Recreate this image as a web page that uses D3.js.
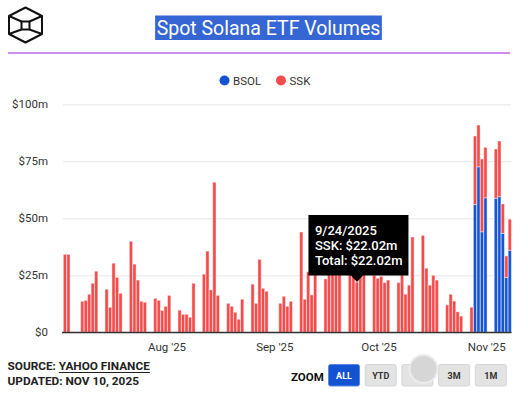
<!DOCTYPE html>
<html>
<head>
<meta charset="utf-8">
<script src="https://cdn.jsdelivr.net/npm/d3@7"></script>
<style>
  body { margin: 0; background: #fff; }
  svg { display: block; font-family: Roboto, "Noto Sans", sans-serif; }
</style>
</head>
<body>
<svg id="chart" width="528" height="397"></svg>
<script>
// trading days (weekends / holidays have no bar)
const dates = [
  '2025-07-02','2025-07-03',
  '2025-07-07','2025-07-08','2025-07-09','2025-07-10','2025-07-11',
  '2025-07-14','2025-07-15','2025-07-16','2025-07-17','2025-07-18',
  '2025-07-21','2025-07-22','2025-07-23','2025-07-24','2025-07-25',
  '2025-07-28','2025-07-29','2025-07-30','2025-07-31','2025-08-01',
  '2025-08-04','2025-08-05','2025-08-06','2025-08-07','2025-08-08',
  '2025-08-11','2025-08-12','2025-08-13','2025-08-14','2025-08-15',
  '2025-08-18','2025-08-19','2025-08-20','2025-08-21','2025-08-22',
  '2025-08-25','2025-08-26','2025-08-27','2025-08-28','2025-08-29',
  '2025-09-02','2025-09-03','2025-09-04','2025-09-05',
  '2025-09-08','2025-09-09','2025-09-10','2025-09-11','2025-09-12',
  '2025-09-15','2025-09-16','2025-09-17','2025-09-18','2025-09-19',
  '2025-09-22','2025-09-23','2025-09-24','2025-09-25','2025-09-26',
  '2025-09-29','2025-09-30','2025-10-01','2025-10-02','2025-10-03',
  '2025-10-06','2025-10-07','2025-10-08','2025-10-09','2025-10-10',
  '2025-10-13','2025-10-14','2025-10-15','2025-10-16','2025-10-17',
  '2025-10-20','2025-10-21','2025-10-22','2025-10-23','2025-10-24',
  '2025-10-27','2025-10-28','2025-10-29','2025-10-30','2025-10-31',
  '2025-11-03','2025-11-04','2025-11-05','2025-11-06','2025-11-07'
];
// $m
const ssk = [
  34.2, 34.2,
  13.6, 14.0, 16.7, 21.5, 26.8,
  18.9, 11.0, 30.3, 24.1, 17.1,
  39.9, 29.9, 22.9, 13.6, 13.2,
  14.9, 14.0, 9.6, 11.4, 16.2,
  9.7, 7.9, 7.9, 6.6, 21.5,
  25.5, 35.6, 18.6, 65.8, 16.2,
  12.7, 11.4, 8.8, 5.7, 14.5,
  21.1, 12.7, 32.0, 19.3, 18.0,
  12.7, 15.8, 11.4, 13.6,
  44.0, 14.5, 26.6, 16.4, 31.0,
  23.4, 29.0, 33.0, 27.0, 35.0,
  30.0, 25.0, 22.02, 27.0, 28.0,
  25.0, 23.7, 24.5, 21.8, 22.9,
  21.8, 26.5, 16.7, 20.7, 41.8,
  42.5, 28.1, 20.7, 25.0, 22.9,
  12.0, 16.7, 13.7, 9.0, 7.1,
  11.0, 30.0, 18.3, 31.9, 22.1,
  21.6, 24.4, 12.9, 9.4, 13.6
];
const bsol = [
  0, 0,
  0, 0, 0, 0, 0,
  0, 0, 0, 0, 0,
  0, 0, 0, 0, 0,
  0, 0, 0, 0, 0,
  0, 0, 0, 0, 0,
  0, 0, 0, 0, 0,
  0, 0, 0, 0, 0,
  0, 0, 0, 0, 0,
  0, 0, 0, 0,
  0, 0, 0, 0, 0,
  0, 0, 0, 0, 0,
  0, 0, 0, 0, 0,
  0, 0, 0, 0, 0,
  0, 0, 0, 0, 0,
  0, 0, 0, 0, 0,
  0, 0, 0, 0, 0,
  0, 56.1, 72.6, 44.1, 59.0,
  58.8, 59.5, 43.4, 24.1, 36.0
];
const seriesNames = ['BSOL', 'SSK'];
const seriesColors = ['#1453d2', '#f44b4b'];
const yTicks = [0, 25, 50, 75, 100];
const yTickLabels = ['$0', '$25m', '$50m', '$75m', '$100m'];
const monthTicks = ['2025-08-01', '2025-09-01', '2025-10-01', '2025-11-01'];
const monthLabels = ["Aug '25", "Sep '25", "Oct '25", "Nov '25"];
const zoomButtons = ['ALL', 'YTD', '', '3M', '1M'];
const tipDate = '2025-09-24';
const tipLabel = '9/24/2025';

const svg = d3.select('#chart');
const parse = d3.utcParse('%Y-%m-%d');

const rows = dates.map((d, i) => ({ date: parse(d), BSOL: bsol[i], SSK: ssk[i] }));

// scales
const x = d3.scaleUtc()
  .domain([parse('2025-07-02'), parse('2025-11-08')])
  .range([63.3, 511.6]);
const y = d3.scaleLinear().domain([0, 100]).range([332.3, 104.3]);
const pitch = x(parse('2025-07-03')) - x(parse('2025-07-02'));

// ---- header
const logo = svg.append('g')
  .attr('fill', 'none').attr('stroke', '#111').attr('stroke-width', 2)
  .attr('stroke-linejoin', 'round');
logo.append('path').attr('d', 'M25.5,7.5 L42,16 L42,34 L25.5,42.5 L9,34 L9,16 Z');
logo.append('rect').attr('x', 21.5).attr('y', 21.5).attr('width', 8).attr('height', 8);
logo.append('path').attr('d', 'M9,16 L21.5,21.5 M42,16 L29.5,21.5 M9,34 L21.5,29.5 M42,34 L29.5,29.5');

const title = svg.append('g');
const titleText = title.append('text')
  .attr('x', 268.5).attr('y', 35)
  .attr('text-anchor', 'middle')
  .attr('font-size', 19.5).attr('fill', '#fff')
  .text('Spot Solana ETF Volumes');
const tw = titleText.node().getComputedTextLength();
title.insert('rect', 'text')
  .attr('x', 268.5 - tw / 2 - 1.5).attr('y', 15.5)
  .attr('width', tw + 3).attr('height', 24.5)
  .attr('fill', '#3566d3');

svg.append('line')
  .attr('x1', 8).attr('x2', 510).attr('y1', 53).attr('y2', 53)
  .attr('stroke', '#9b1fdc').attr('stroke-width', 1.2);

// ---- legend
const legend = svg.append('g').attr('font-size', 11.5).attr('fill', '#333');
const legendX = [224.5, 281];
seriesNames.forEach((name, i) => {
  legend.append('circle').attr('cx', legendX[i]).attr('cy', 80.5).attr('r', 5)
    .attr('fill', seriesColors[i]);
  legend.append('text').attr('x', legendX[i] + 8.5).attr('y', 84.5).text(name);
});

// ---- grid + y axis
const yAxis = d3.axisLeft(y).tickValues(yTicks)
  .tickSize(-(511 - 63))
  .tickFormat((d, i) => yTickLabels[i]);
svg.append('g')
  .attr('transform', 'translate(63,0)')
  .call(yAxis)
  .call(g => g.select('.domain').remove())
  .call(g => g.selectAll('.tick line').attr('stroke', '#e6e6e6'))
  .call(g => g.selectAll('.tick text')
    .attr('x', -15).attr('font-size', 11.5).attr('fill', '#333')
    .attr('font-family', 'Roboto, sans-serif'));

// ---- bars
const stack = d3.stack().keys(seriesNames)(rows);
svg.append('g').selectAll('g')
  .data(stack)
  .join('g')
  .attr('fill', (d, i) => seriesColors[i])
  .selectAll('rect')
  .data(d => d.filter(p => p[1] > p[0]))
  .join('rect')
  .attr('x', d => x(d.data.date))
  .attr('y', d => y(d[1]))
  .attr('width', pitch - 0.2)
  .attr('height', d => y(d[0]) - y(d[1]))
  .attr('stroke', 'rgba(255,255,255,0.45)')
  .attr('stroke-width', 1);

// ---- x axis
const xAxis = d3.axisBottom(x)
  .tickValues(monthTicks.map(parse))
  .tickSize(0)
  .tickFormat((d, i) => monthLabels[i]);
svg.append('g')
  .attr('transform', 'translate(-1,332)')
  .call(xAxis)
  .call(g => g.select('.domain').remove())
  .call(g => g.selectAll('.tick text')
    .attr('dy', 0).attr('y', 19).attr('font-size', 11.5).attr('fill', '#333')
    .attr('font-family', 'Roboto, sans-serif'));
svg.append('line')
  .attr('x1', 62).attr('x2', 511.5).attr('y1', 332.5).attr('y2', 332.5)
  .attr('stroke', '#333').attr('stroke-width', 1.3);

// ---- tooltip
const ti = dates.indexOf(tipDate);
const tipX = x(rows[ti].date) + pitch / 2;
const tipY = y(bsol[ti] + ssk[ti]);
const fmt = d3.format('.2f');
const tipLines = [tipLabel, `SSK: $${fmt(ssk[ti])}m`, `Total: $${fmt(ssk[ti] + bsol[ti])}m`];
const tg = svg.append('g');
const boxL = tipX - 48.5, boxT = 215, boxW = 100, boxB = tipY - 6.5;
tg.append('path')
  .attr('d', `M${boxL},${boxT} H${boxL + boxW} V${boxB} H${tipX + 6} L${tipX},${tipY} L${tipX - 6},${boxB} H${boxL} Z`)
  .attr('fill', '#000');
tg.selectAll('text').data(tipLines).join('text')
  .attr('x', boxL + 6.5)
  .attr('y', (d, i) => 235 + i * 15)
  .attr('font-size', 13).attr('font-weight', 500).attr('fill', '#fff')
  .text(d => d);

// ---- footer
const foot = svg.append('g').attr('font-weight', 700).attr('fill', '#222').attr('font-size', 11.8);
const src = foot.append('text').attr('x', 7.5).attr('y', 370);
src.append('tspan').text('SOURCE: ');
const yahoo = src.append('tspan').text('YAHOO FINANCE');
foot.append('text').attr('x', 7.5).attr('y', 384.5).text('UPDATED: NOV 10, 2025');
const srcLen = src.node().getComputedTextLength();
const yLen = yahoo.node().getComputedTextLength();
foot.append('line')
  .attr('x1', 7.5 + srcLen - yLen).attr('x2', 7.5 + srcLen)
  .attr('y1', 372.5).attr('y2', 372.5)
  .attr('stroke', '#222').attr('stroke-width', 1);

svg.append('text').attr('x', 291).attr('y', 381)
  .attr('font-size', 11.5).attr('font-weight', 700).attr('fill', '#111')
  .text('ZOOM');

const btn = svg.append('g').selectAll('g').data(zoomButtons).join('g')
  .attr('transform', (d, i) => `translate(${328.5 + i * 36.7},364.5)`);
btn.append('rect')
  .attr('width', 31).attr('height', 21.5).attr('rx', 2)
  .attr('fill', (d, i) => i === 0 ? '#1452d4' : '#e3e3e3')
  .attr('stroke', (d, i) => i === 0 ? '#5b86e0' : '#d6d6d6');
btn.filter(d => d !== '').append('text')
  .attr('x', 15.5).attr('y', 14.5).attr('text-anchor', 'middle')
  .attr('font-size', 9).attr('font-weight', 700)
  .attr('fill', (d, i) => i === 0 ? '#fff' : '#333')
  .text(d => d);

// ---- faint watermark disc over the third button
svg.append('circle').attr('cx', 423.5).attr('cy', 369).attr('r', 14)
  .attr('fill', '#d6d6d6').attr('stroke', '#ececec').attr('stroke-width', 2);
</script>
</body>
</html>
